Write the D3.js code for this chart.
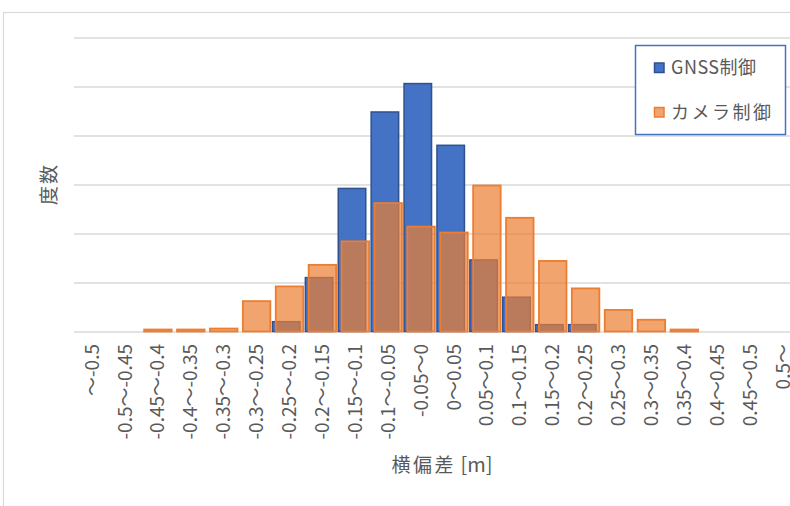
<!DOCTYPE html>
<html lang="ja">
<head>
<meta charset="utf-8">
<script src="https://cdn.jsdelivr.net/npm/d3@7"></script>
<style>
  html, body { margin: 0; padding: 0; background: #ffffff; }
  svg { display: block; font-family: "Noto Sans CJK JP", "Noto Sans", sans-serif; }
</style>
</head>
<body>
<svg id="chart" width="790" height="506"></svg>
<script>
// Histogram of lateral deviation: GNSS control vs camera control (relative frequency, %)
const categories = [
  "～-0.5", "-0.5～-0.45", "-0.45～-0.4", "-0.4～-0.35", "-0.35～-0.3",
  "-0.3～-0.25", "-0.25～-0.2", "-0.2～-0.15", "-0.15～-0.1", "-0.1～-0.05",
  "-0.05～0", "0～0.05", "0.05～0.1", "0.1～0.15", "0.15～0.2",
  "0.2～0.25", "0.25～0.3", "0.3～0.35", "0.35～0.4", "0.4～0.45",
  "0.45～0.5", "0.5～"
];
const gnss   = [0, 0, 0, 0, 0, 0, 1.0, 5.5, 14.6, 22.4, 25.3, 19.0, 7.3, 3.5, 0.7, 0.7, 0, 0, 0, 0, 0, 0];
const camera = [0, 0, 0.2, 0.2, 0.3, 3.1, 4.6, 6.8, 9.2, 13.1, 10.7, 10.1, 14.9, 11.6, 7.2, 4.4, 2.2, 1.2, 0.2, 0, 0, 0];
const seriesNames = ["GNSS制御", "カメラ制御"];
const yTicks = [0, 5, 10, 15, 20, 25, 30];
const xTitle = ["横偏差", " [m]"];
const yTitle = "度数";

(function draw() {
  const svg = d3.select("#chart");
  const textColor = "#595959";
  const gridColor = "#d9d9d9";
  const blue = "#4472C4", blueEdge = "#2F528F";
  const orange = "#ED7D31";

  // outer chart frame
  svg.append("rect")
    .attr("x", 3.5).attr("y", 12.5)
    .attr("width", 820).attr("height", 520)
    .attr("fill", "#ffffff")
    .attr("stroke", gridColor).attr("stroke-width", 1.2);

  const plotLeft = 74, plotTop = 37.5, plotBottom = 331.5;
  const step = 32.9;
  const plotRight = plotLeft + step * categories.length;

  const x = d3.scaleBand().domain(categories).range([plotLeft, plotRight]).padding(0);
  const y = d3.scaleLinear().domain([0, 30]).range([plotBottom, plotTop]);
  const bw = x.bandwidth();
  const barW = 27.5, shift = 1.65;

  // horizontal gridlines
  const grid = svg.append("g")
    .attr("transform", `translate(${plotLeft},0)`)
    .call(d3.axisLeft(y).tickValues(yTicks).tickSize(-(plotRight - plotLeft)).tickFormat(""));
  grid.select(".domain").remove();
  grid.selectAll(".tick line").attr("stroke", gridColor).attr("stroke-width", 1.5);

  // GNSS bars
  svg.append("g").selectAll("rect")
    .data(categories.map((c, i) => ({ c, v: gnss[i] })).filter(d => d.v > 0))
    .join("rect")
    .attr("x", d => x(d.c) + bw / 2 - shift - barW / 2)
    .attr("y", d => y(d.v))
    .attr("width", barW)
    .attr("height", d => y(0) - y(d.v))
    .attr("fill", blue)
    .attr("stroke", blueEdge)
    .attr("stroke-width", 1.5);

  // camera bars, semi-transparent on top
  svg.append("g").selectAll("rect")
    .data(categories.map((c, i) => ({ c, v: camera[i] })).filter(d => d.v > 0))
    .join("rect")
    .attr("x", d => x(d.c) + bw / 2 + shift - barW / 2)
    .attr("y", d => y(d.v))
    .attr("width", barW)
    .attr("height", d => y(0) - y(d.v))
    .attr("fill", orange)
    .attr("fill-opacity", 0.7)
    .attr("stroke", orange)
    .attr("stroke-width", 1.8);

  // category labels
  const xAxis = svg.append("g")
    .attr("transform", `translate(0,${plotBottom})`)
    .call(d3.axisBottom(x).tickSize(0));
  xAxis.select(".domain").remove();
  xAxis.selectAll(".tick text")
    .attr("transform", "rotate(-90)")
    .attr("text-anchor", "end")
    .attr("x", -12.5)
    .attr("y", 1.5)
    .attr("dy", "0.35em")
    .attr("fill", textColor)
    .style("font-size", "19px")
    .style("font-family", "'Noto Sans CJK JP', sans-serif");

  // axis titles
  const xt = svg.append("text")
    .attr("x", 442).attr("y", 472)
    .attr("text-anchor", "middle")
    .attr("fill", textColor)
    .style("font-size", "19px");
  xt.append("tspan").style("letter-spacing", "2.5px").text(xTitle[0]);
  xt.append("tspan").style("font-size", "20px").text(xTitle[1]);

  svg.append("text")
    .attr("transform", "translate(49,184) rotate(-90)")
    .attr("text-anchor", "middle")
    .attr("dy", "0.35em")
    .attr("fill", textColor)
    .style("font-size", "19px")
    .style("letter-spacing", "2px")
    .text(yTitle);

  // legend
  const legend = svg.append("g");
  legend.append("rect")
    .attr("x", 635.5).attr("y", 45.5)
    .attr("width", 150).attr("height", 89)
    .attr("fill", "#ffffff")
    .attr("stroke", blue).attr("stroke-width", 1.5);

  const legendItems = [
    { name: seriesNames[0], fill: blue, fo: 1, edge: blueEdge, y: 63, ls: 0.5 },
    { name: seriesNames[1], fill: orange, fo: 0.7, edge: orange, y: 107.5, ls: 2.5 }
  ];
  legendItems.forEach(it => {
    legend.append("rect")
      .attr("x", 654.5).attr("y", it.y)
      .attr("width", 9.5).attr("height", 9.5)
      .attr("fill", it.fill).attr("fill-opacity", it.fo)
      .attr("stroke", it.edge).attr("stroke-width", 1.5);
    legend.append("text")
      .attr("x", 671).attr("y", it.y + 5)
      .attr("dy", "0.36em")
      .attr("fill", textColor)
      .style("font-size", "18px")
      .style("letter-spacing", `${it.ls}px`)
      .text(it.name);
  });
})();
</script>
</body>
</html>
